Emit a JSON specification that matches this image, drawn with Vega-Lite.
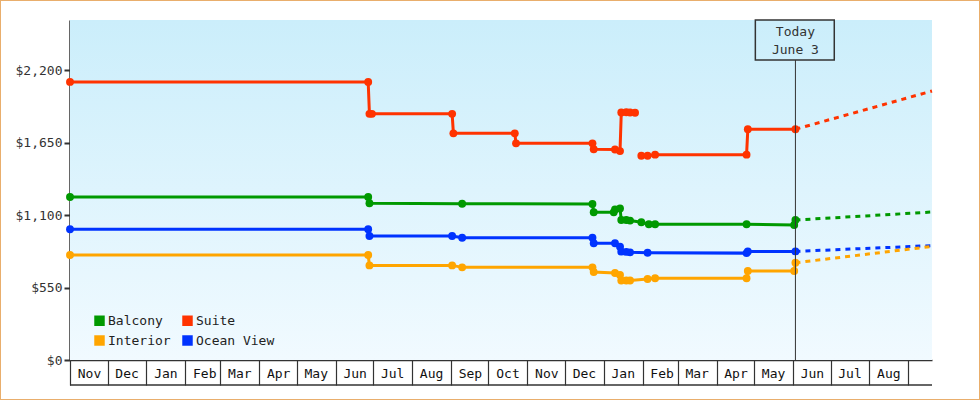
{
  "$schema": "https://vega.github.io/schema/vega-lite/v6.json",
  "width": 980,
  "height": 400,
  "autosize": {"type": "none"},
  "padding": 0,
  "background": "white",
  "config": {
    "view": {"stroke": "#E9AE6C", "strokeWidth": 2},
    "font": "DejaVu Sans Mono",
    "legend": {
      "orient": "none",
      "legendX": 93,
      "legendY": 314,
      "columns": 2,
      "symbolType": "square",
      "symbolSize": 110,
      "symbolStrokeWidth": 0,
      "symbolOpacity": 1,
      "labelFont": "DejaVu Sans Mono",
      "labelFontSize": 13,
      "labelColor": "#222222",
      "labelOffset": 2,
      "columnPadding": 10,
      "rowPadding": 6,
      "padding": 0
    }
  },
  "datasets": {
    "prices": [
      {"cabin": "Suite", "part": "a", "date": "2021-11-01T00:00:00", "price": 2110},
      {"cabin": "Suite", "part": "a", "date": "2022-06-27T00:00:00", "price": 2110},
      {"cabin": "Suite", "part": "a", "date": "2022-06-28T00:00:00", "price": 1868},
      {"cabin": "Suite", "part": "a", "date": "2022-06-30T00:00:00", "price": 1868},
      {"cabin": "Suite", "part": "a", "date": "2022-09-02T00:00:00", "price": 1868},
      {"cabin": "Suite", "part": "a", "date": "2022-09-03T00:00:00", "price": 1720},
      {"cabin": "Suite", "part": "a", "date": "2022-10-22T00:00:00", "price": 1720},
      {"cabin": "Suite", "part": "a", "date": "2022-10-23T00:00:00", "price": 1644},
      {"cabin": "Suite", "part": "a", "date": "2022-12-23T00:00:00", "price": 1644},
      {"cabin": "Suite", "part": "a", "date": "2022-12-24T00:00:00", "price": 1599},
      {"cabin": "Suite", "part": "a", "date": "2023-01-10T00:00:00", "price": 1597},
      {"cabin": "Suite", "part": "a", "date": "2023-01-14T00:00:00", "price": 1585},
      {"cabin": "Suite", "part": "a", "date": "2023-01-15T00:00:00", "price": 1878},
      {"cabin": "Suite", "part": "a", "date": "2023-01-19T00:00:00", "price": 1880},
      {"cabin": "Suite", "part": "a", "date": "2023-01-22T00:00:00", "price": 1878},
      {"cabin": "Suite", "part": "a", "date": "2023-01-26T00:00:00", "price": 1876},
      {"cabin": "Suite", "part": "b", "date": "2023-01-31T00:00:00", "price": 1550},
      {"cabin": "Suite", "part": "b", "date": "2023-02-05T00:00:00", "price": 1550},
      {"cabin": "Suite", "part": "b", "date": "2023-02-11T00:00:00", "price": 1558},
      {"cabin": "Suite", "part": "b", "date": "2023-04-25T00:00:00", "price": 1558},
      {"cabin": "Suite", "part": "b", "date": "2023-04-26T00:00:00", "price": 1751},
      {"cabin": "Suite", "part": "b", "date": "2023-06-03T00:00:00", "price": 1751},

      {"cabin": "Balcony", "part": "a", "date": "2021-11-01T00:00:00", "price": 1237},
      {"cabin": "Balcony", "part": "a", "date": "2022-06-27T00:00:00", "price": 1237},
      {"cabin": "Balcony", "part": "a", "date": "2022-06-28T00:00:00", "price": 1189},
      {"cabin": "Balcony", "part": "a", "date": "2022-09-10T00:00:00", "price": 1186},
      {"cabin": "Balcony", "part": "a", "date": "2022-12-23T00:00:00", "price": 1184},
      {"cabin": "Balcony", "part": "a", "date": "2022-12-24T00:00:00", "price": 1121},
      {"cabin": "Balcony", "part": "a", "date": "2023-01-09T00:00:00", "price": 1121},
      {"cabin": "Balcony", "part": "a", "date": "2023-01-10T00:00:00", "price": 1142},
      {"cabin": "Balcony", "part": "a", "date": "2023-01-14T00:00:00", "price": 1150},
      {"cabin": "Balcony", "part": "a", "date": "2023-01-15T00:00:00", "price": 1062},
      {"cabin": "Balcony", "part": "a", "date": "2023-01-19T00:00:00", "price": 1062},
      {"cabin": "Balcony", "part": "a", "date": "2023-01-22T00:00:00", "price": 1058},
      {"cabin": "Balcony", "part": "a", "date": "2023-01-31T00:00:00", "price": 1045},
      {"cabin": "Balcony", "part": "a", "date": "2023-02-06T00:00:00", "price": 1030},
      {"cabin": "Balcony", "part": "a", "date": "2023-02-11T00:00:00", "price": 1030},
      {"cabin": "Balcony", "part": "a", "date": "2023-04-25T00:00:00", "price": 1030},
      {"cabin": "Balcony", "part": "a", "date": "2023-06-02T00:00:00", "price": 1024},
      {"cabin": "Balcony", "part": "a", "date": "2023-06-03T00:00:00", "price": 1062},

      {"cabin": "Ocean View", "part": "a", "date": "2021-11-01T00:00:00", "price": 992},
      {"cabin": "Ocean View", "part": "a", "date": "2022-06-27T00:00:00", "price": 992},
      {"cabin": "Ocean View", "part": "a", "date": "2022-06-28T00:00:00", "price": 941},
      {"cabin": "Ocean View", "part": "a", "date": "2022-09-02T00:00:00", "price": 941},
      {"cabin": "Ocean View", "part": "a", "date": "2022-09-10T00:00:00", "price": 928},
      {"cabin": "Ocean View", "part": "a", "date": "2022-12-23T00:00:00", "price": 928},
      {"cabin": "Ocean View", "part": "a", "date": "2022-12-24T00:00:00", "price": 886},
      {"cabin": "Ocean View", "part": "a", "date": "2023-01-10T00:00:00", "price": 886},
      {"cabin": "Ocean View", "part": "a", "date": "2023-01-14T00:00:00", "price": 860},
      {"cabin": "Ocean View", "part": "a", "date": "2023-01-15T00:00:00", "price": 822},
      {"cabin": "Ocean View", "part": "a", "date": "2023-01-19T00:00:00", "price": 820},
      {"cabin": "Ocean View", "part": "a", "date": "2023-01-22T00:00:00", "price": 817},
      {"cabin": "Ocean View", "part": "a", "date": "2023-02-05T00:00:00", "price": 814},
      {"cabin": "Ocean View", "part": "a", "date": "2023-04-25T00:00:00", "price": 811},
      {"cabin": "Ocean View", "part": "a", "date": "2023-04-26T00:00:00", "price": 824},
      {"cabin": "Ocean View", "part": "a", "date": "2023-06-03T00:00:00", "price": 824},

      {"cabin": "Interior", "part": "a", "date": "2021-11-01T00:00:00", "price": 797},
      {"cabin": "Interior", "part": "a", "date": "2022-06-27T00:00:00", "price": 797},
      {"cabin": "Interior", "part": "a", "date": "2022-06-28T00:00:00", "price": 718},
      {"cabin": "Interior", "part": "a", "date": "2022-09-02T00:00:00", "price": 718},
      {"cabin": "Interior", "part": "a", "date": "2022-09-10T00:00:00", "price": 703},
      {"cabin": "Interior", "part": "a", "date": "2022-12-23T00:00:00", "price": 703},
      {"cabin": "Interior", "part": "a", "date": "2022-12-24T00:00:00", "price": 668},
      {"cabin": "Interior", "part": "a", "date": "2023-01-10T00:00:00", "price": 660},
      {"cabin": "Interior", "part": "a", "date": "2023-01-14T00:00:00", "price": 645},
      {"cabin": "Interior", "part": "a", "date": "2023-01-15T00:00:00", "price": 603},
      {"cabin": "Interior", "part": "a", "date": "2023-01-19T00:00:00", "price": 603},
      {"cabin": "Interior", "part": "a", "date": "2023-01-22T00:00:00", "price": 603},
      {"cabin": "Interior", "part": "a", "date": "2023-02-05T00:00:00", "price": 615},
      {"cabin": "Interior", "part": "a", "date": "2023-02-11T00:00:00", "price": 620},
      {"cabin": "Interior", "part": "a", "date": "2023-04-25T00:00:00", "price": 620},
      {"cabin": "Interior", "part": "a", "date": "2023-04-26T00:00:00", "price": 675},
      {"cabin": "Interior", "part": "a", "date": "2023-06-02T00:00:00", "price": 675},
      {"cabin": "Interior", "part": "a", "date": "2023-06-03T00:00:00", "price": 738}
    ],
    "projection": [
      {"cabin": "Suite", "date": "2023-06-03T00:00:00", "price": 1751},
      {"cabin": "Suite", "date": "2023-09-20T00:00:00", "price": 2041},
      {"cabin": "Balcony", "date": "2023-06-03T00:00:00", "price": 1062},
      {"cabin": "Balcony", "date": "2023-09-20T00:00:00", "price": 1123},
      {"cabin": "Ocean View", "date": "2023-06-03T00:00:00", "price": 824},
      {"cabin": "Ocean View", "date": "2023-09-20T00:00:00", "price": 868},
      {"cabin": "Interior", "date": "2023-06-03T00:00:00", "price": 738},
      {"cabin": "Interior", "date": "2023-09-20T00:00:00", "price": 862}
    ],
    "today": [
      {"date": "2023-06-03T00:00:00", "label": "Today\nJune 3"}
    ]
  },
  "layer": [
    {
      "data": {"values": [{"frame": "plot"}]},
      "mark": {
        "type": "rect",
        "fill": {
          "gradient": "linear", "x1": 0, "y1": 0, "x2": 0, "y2": 1,
          "stops": [{"offset": 0, "color": "#CBEEFB"}, {"offset": 1, "color": "#F1FAFF"}]
        }
      },
      "encoding": {
        "x": {
          "datum": {"year": 2021, "month": 11, "date": 1},
          "type": "temporal",
          "scale": {
            "type": "time",
            "domain": [{"year": 2021, "month": 11, "date": 1}, {"year": 2023, "month": 9, "date": 20}],
            "range": [70, 932]
          },
          "axis": {
            "title": null,
            "orient": "bottom",
            "offset": -40,
            "values": [
              {"year": 2021, "month": 11, "date": 1}, {"year": 2021, "month": 12, "date": 1},
              {"year": 2022, "month": 1, "date": 1}, {"year": 2022, "month": 2, "date": 1},
              {"year": 2022, "month": 3, "date": 1}, {"year": 2022, "month": 4, "date": 1},
              {"year": 2022, "month": 5, "date": 1}, {"year": 2022, "month": 6, "date": 1},
              {"year": 2022, "month": 7, "date": 1}, {"year": 2022, "month": 8, "date": 1},
              {"year": 2022, "month": 9, "date": 1}, {"year": 2022, "month": 10, "date": 1},
              {"year": 2022, "month": 11, "date": 1}, {"year": 2022, "month": 12, "date": 1},
              {"year": 2023, "month": 1, "date": 1}, {"year": 2023, "month": 2, "date": 1},
              {"year": 2023, "month": 3, "date": 1}, {"year": 2023, "month": 4, "date": 1},
              {"year": 2023, "month": 5, "date": 1}, {"year": 2023, "month": 6, "date": 1},
              {"year": 2023, "month": 7, "date": 1}, {"year": 2023, "month": 8, "date": 1},
              {"year": 2023, "month": 9, "date": 1}
            ],
            "labelExpr": "datum.value >= datetime(2023, 8, 1) ? '' : timeFormat(datum.value, '%b')",
            "labelAlign": "center",
            "labelOffset": 19,
            "labelBaseline": "middle",
            "labelPadding": -12,
            "labelFont": "DejaVu Sans Mono",
            "labelFontSize": 13,
            "labelColor": "#111111",
            "labelOverlap": false,
            "labelFlush": false,
            "labelBound": false,
            "tickSize": 25,
            "tickColor": "#333333",
            "tickWidth": 1.2,
            "domainColor": "#333333",
            "domainWidth": 1.5,
            "grid": false
          }
        },
        "x2": {"datum": {"year": 2023, "month": 9, "date": 20}},
        "y": {
          "datum": 0,
          "type": "quantitative",
          "scale": {"domain": [0, 2580], "range": [360, 20], "nice": false, "zero": false},
          "axis": {
            "title": null,
            "orient": "left",
            "offset": -70,
            "values": [0, 550, 1100, 1650, 2200],
            "format": "$,.0f",
            "labelFont": "DejaVu Sans Mono",
            "labelFontSize": 13,
            "labelColor": "#333333",
            "labelPadding": 2,
            "tickSize": 6,
            "tickWidth": 2,
            "tickColor": "#333333",
            "domainColor": "#333333",
            "domainWidth": 2.5,
            "grid": false
          }
        },
        "y2": {"datum": 2580}
      }
    },
    {
      "data": {"values": [{"frame": "axis-box"}]},
      "mark": {"type": "rule", "color": "#333333", "strokeWidth": 1.5},
      "encoding": {
        "x": {"datum": {"year": 2021, "month": 11, "date": 1}, "type": "temporal"},
        "x2": {"datum": {"year": 2023, "month": 9, "date": 20}},
        "y": {"datum": -190, "type": "quantitative"}
      }
    },
    {
      "data": {"name": "prices"},
      "mark": {"type": "line", "strokeWidth": 3, "interpolate": "linear"},
      "encoding": {
        "x": {"field": "date", "type": "temporal"},
        "y": {"field": "price", "type": "quantitative"},
        "detail": {"field": "part"},
        "color": {
          "field": "cabin", "type": "nominal",
          "scale": {"domain": ["Balcony", "Interior", "Suite", "Ocean View"], "range": ["#009900", "#FFA500", "#FF3300", "#0033FF"]},
          "legend": {"title": null, "encode": {"symbols": {"update": {"fill": {"scale": "color", "field": "value"}, "strokeWidth": {"value": 0}}}}}
        }
      }
    },
    {
      "data": {"name": "projection"},
      "mark": {"type": "line", "strokeWidth": 3, "strokeDash": [5, 5]},
      "encoding": {
        "x": {"field": "date", "type": "temporal"},
        "y": {"field": "price", "type": "quantitative"},
        "color": {
          "field": "cabin", "type": "nominal",
          "scale": {"domain": ["Balcony", "Interior", "Suite", "Ocean View"], "range": ["#009900", "#FFA500", "#FF3300", "#0033FF"]},
          "legend": {"title": null, "encode": {"symbols": {"update": {"fill": {"scale": "color", "field": "value"}, "strokeWidth": {"value": 0}}}}}
        }
      }
    },
    {
      "data": {"name": "prices"},
      "mark": {"type": "point", "filled": true, "shape": "circle", "size": 62, "opacity": 1},
      "encoding": {
        "x": {"field": "date", "type": "temporal"},
        "y": {"field": "price", "type": "quantitative"},
        "color": {
          "field": "cabin", "type": "nominal",
          "scale": {"domain": ["Balcony", "Interior", "Suite", "Ocean View"], "range": ["#009900", "#FFA500", "#FF3300", "#0033FF"]},
          "legend": {"title": null, "encode": {"symbols": {"update": {"fill": {"scale": "color", "field": "value"}, "strokeWidth": {"value": 0}}}}}
        }
      }
    },
    {
      "data": {"name": "today"},
      "mark": {"type": "rule", "color": "#333333", "strokeWidth": 1},
      "encoding": {
        "x": {"field": "date", "type": "temporal"},
        "y": {"datum": 0, "type": "quantitative"},
        "y2": {"datum": 2276}
      }
    },
    {
      "data": {"name": "today"},
      "mark": {"type": "rect", "fill": null, "fillOpacity": 0, "stroke": "#333333", "strokeWidth": 1.5},
      "encoding": {
        "x": {"datum": {"year": 2023, "month": 5, "date": 2}, "type": "temporal"},
        "x2": {"datum": {"year": 2023, "month": 7, "date": 4}},
        "y": {"datum": 2276, "type": "quantitative"},
        "y2": {"datum": 2580}
      }
    },
    {
      "data": {"name": "today"},
      "mark": {"type": "text", "font": "DejaVu Sans Mono", "fontSize": 13, "color": "#333333", "align": "center", "baseline": "middle", "lineBreak": "\n", "lineHeight": 18},
      "encoding": {
        "x": {"field": "date", "type": "temporal"},
        "y": {"datum": 2487, "type": "quantitative"},
        "text": {"field": "label"}
      }
    }
  ]
}
